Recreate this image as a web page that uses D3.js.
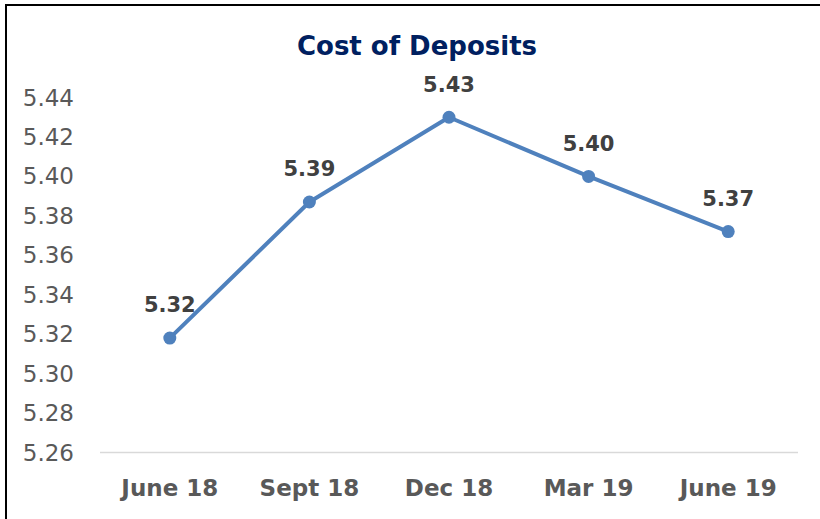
<!DOCTYPE html>
<html>
<head>
<meta charset="utf-8">
<script src="https://cdn.jsdelivr.net/npm/d3@7"></script>
<style>
  body { margin: 0; background: #fff; }
  svg { display: block; font-family: "DejaVu Sans", sans-serif; }
</style>
</head>
<body>
<svg id="chart" width="820" height="519"></svg>
<script>
var categories = ["June 18", "Sept 18", "Dec 18", "Mar 19", "June 19"];
var values = [5.318, 5.387, 5.430, 5.400, 5.372];
var labels = ["5.32", "5.39", "5.43", "5.40", "5.37"];
var yTicks = [5.26, 5.28, 5.30, 5.32, 5.34, 5.36, 5.38, 5.40, 5.42, 5.44];

var svg = d3.select("#chart");

// frame (top and left edges visible)
svg.append("path")
  .attr("d", "M6,519 L6,5 L820,5")
  .attr("fill", "none")
  .attr("stroke", "#000")
  .attr("stroke-width", 2);

var x = d3.scaleBand()
  .domain(categories)
  .range([100, 798]);

var y = d3.scaleLinear()
  .domain([5.26, 5.44])
  .range([452.5, 97.5]);

svg.append("text")
  .attr("x", 417)
  .attr("y", 46)
  .attr("dy", "0.35em")
  .attr("text-anchor", "middle")
  .attr("fill", "#002060")
  .attr("font-size", 26)
  .attr("font-weight", "bold")
  .text("Cost of Deposits");

// y axis labels
svg.append("g")
  .selectAll("text")
  .data(yTicks)
  .enter()
  .append("text")
  .attr("x", 74)
  .attr("y", function(d){ return y(d); })
  .attr("dy", "0.35em")
  .attr("text-anchor", "end")
  .attr("fill", "#595959")
  .attr("font-size", 23)
  .text(function(d){ return d.toFixed(2); });

// baseline
svg.append("line")
  .attr("x1", 100)
  .attr("x2", 798)
  .attr("y1", y(5.26))
  .attr("y2", y(5.26))
  .attr("stroke", "#d9d9d9")
  .attr("stroke-width", 1.5);

// x labels
svg.append("g")
  .selectAll("text")
  .data(categories)
  .enter()
  .append("text")
  .attr("x", function(d){ return x(d) + x.bandwidth() / 2; })
  .attr("y", 488)
  .attr("dy", "0.35em")
  .attr("text-anchor", "middle")
  .attr("fill", "#595959")
  .attr("font-size", 23)
  .attr("font-weight", "bold")
  .text(function(d){ return d; });

var line = d3.line()
  .x(function(d, i){ return x(categories[i]) + x.bandwidth() / 2; })
  .y(function(d){ return y(d); });

svg.append("path")
  .datum(values)
  .attr("d", line)
  .attr("fill", "none")
  .attr("stroke", "#4f81bd")
  .attr("stroke-width", 4)
  .attr("stroke-linejoin", "round");

svg.append("g")
  .selectAll("circle")
  .data(values)
  .enter()
  .append("circle")
  .attr("cx", function(d, i){ return x(categories[i]) + x.bandwidth() / 2; })
  .attr("cy", function(d){ return y(d); })
  .attr("r", 6.5)
  .attr("fill", "#4f81bd");

svg.append("g")
  .selectAll("text")
  .data(values)
  .enter()
  .append("text")
  .attr("x", function(d, i){ return x(categories[i]) + x.bandwidth() / 2; })
  .attr("y", function(d){ return y(d) - 33; })
  .attr("dy", "0.35em")
  .attr("text-anchor", "middle")
  .attr("fill", "#404040")
  .attr("font-size", 21)
  .attr("font-weight", "bold")
  .text(function(d, i){ return labels[i]; });
</script>
</body>
</html>
